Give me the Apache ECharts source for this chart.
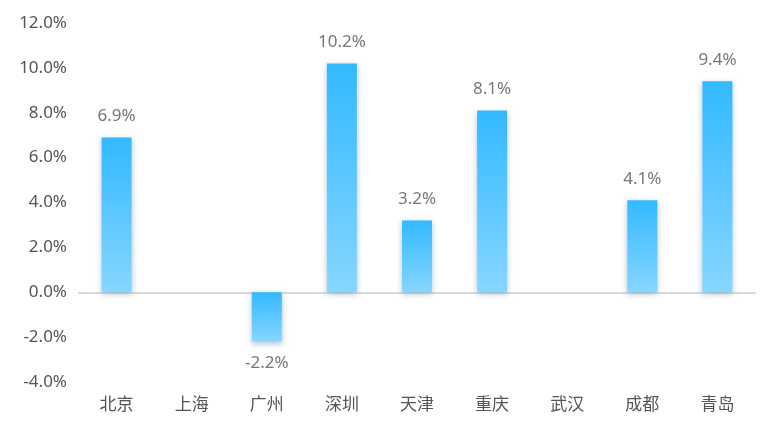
<!DOCTYPE html>
<html><head><meta charset="utf-8">
<script src="https://cdn.jsdelivr.net/npm/echarts@6/dist/echarts.min.js"></script>
<style>html,body{margin:0;padding:0;background:#fff}#c{width:777px;height:432px}</style>
</head><body><div id="c"></div>
<script>
var categories = ['北京','上海','广州','深圳','天津','重庆','武汉','成都','青岛'];
var values = [6.9, null, -2.2, 10.2, 3.2, 8.1, null, 4.1, 9.4];
var yTicks = [-4, 12, 2];
var chart = echarts.init(document.getElementById('c'));
var seriesData = values.map(function(v){
  return {value: v, label: {position: (v !== null && v < 0) ? 'bottom' : 'top'}};
});
chart.setOption({
  animation: false,
  grid: {left: 79, right: 22, top: 23, bottom: 50},
  xAxis: {
    type: 'category', data: categories,
    axisLine: {lineStyle: {color: '#d9d9d9', width: 2}},
    axisTick: {show: false},
    axisLabel: {color: '#555', fontSize: 17, margin: 13, fontFamily: 'Noto Sans CJK SC'}
  },
  yAxis: {
    type: 'value', min: yTicks[0], max: yTicks[1], interval: yTicks[2],
    axisLine: {show: false}, axisTick: {show: false}, splitLine: {show: false},
    axisLabel: {color: '#555', fontSize: 17, margin: 12, fontFamily: 'Noto Sans',
      formatter: function(v){ return v.toFixed(1) + '%'; }}
  },
  series: [{
    type: 'bar', data: seriesData, barWidth: 30,
    itemStyle: {
      color: new echarts.graphic.LinearGradient(0,0,0,1,[{offset:0,color:'#33b9ff'},{offset:1,color:'#87d6ff'}]),
      shadowColor: 'rgba(60,110,150,0.4)', shadowBlur: 6, shadowOffsetY: 2
    },
    label: {show: true, distance: 13, color: '#777', fontSize: 17, fontFamily: 'Noto Sans',
      formatter: function(p){ return p.value.toFixed(1) + '%'; }}
  }]
});
</script></body></html>
